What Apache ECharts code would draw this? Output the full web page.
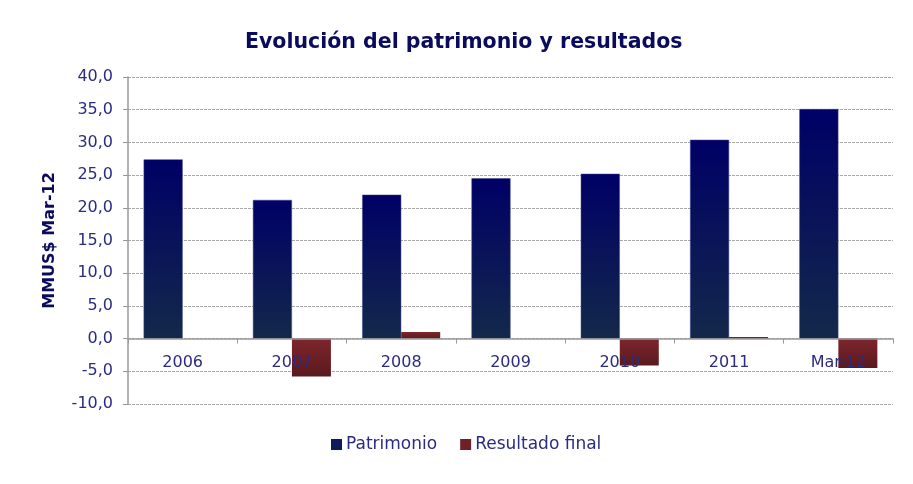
<!DOCTYPE html>
<html>
<head>
<meta charset="utf-8">
<script src="https://cdn.jsdelivr.net/npm/echarts@6/dist/echarts.min.js"></script>
<style>
  html, body { margin: 0; padding: 0; background: #fff; }
  #chart { width: 913px; height: 484px; }
</style>
</head>
<body>
<div id="chart"></div>
<script>
// valores (MMUS$ Mar-12)
const categorias = ['2006', '2007', '2008', '2009', '2010', '2011', 'Mar-12'];
const patrimonio = [27.4, 21.2, 22.0, 24.5, 25.2, 30.4, 35.1];
const resultadoFinal = [0, -5.8, 1.0, 0, -4.1, 0.25, -4.5];

const azul = new echarts.graphic.LinearGradient(0, 0, 0, 1, [
  { offset: 0, color: '#000066' },
  { offset: 1, color: '#13294a' }
]);
const rojo = new echarts.graphic.LinearGradient(0, 0, 0, 1, [
  { offset: 0, color: '#7d252c' },
  { offset: 1, color: '#5a1a1e' }
]);

const chart = echarts.init(document.getElementById('chart'));
chart.setOption({
  animation: false,
  textStyle: { fontFamily: 'DejaVu Sans' },
  title: {
    text: 'Evolución del patrimonio y resultados',
    left: 240,
    top: 27,
    textStyle: { fontSize: 20.5, fontWeight: 'bold', color: '#0b0b5e' }
  },
  legend: {
    bottom: 26,
    left: 326,
    itemWidth: 11,
    itemHeight: 11,
    itemGap: 23,
    icon: 'rect',
    textStyle: { fontSize: 17, color: '#2b2b80', padding: [0, 0, 0, -1] },
    data: [
      { name: 'Patrimonio', itemStyle: { color: '#0e1a5a', borderWidth: 0 } },
      { name: 'Resultado final', itemStyle: { color: '#6e2228', borderWidth: 0 } }
    ]
  },
  grid: { left: 128, right: 20, top: 77, bottom: 80 },
  xAxis: {
    type: 'category',
    data: categorias,
    z: 5, // etiquetas por encima de las barras rojas
    axisLine: { onZero: true, lineStyle: { color: '#9a9a9a', width: 1.5 } },
    axisTick: { show: true, length: 5, lineStyle: { color: '#9a9a9a' } },
    axisLabel: { fontSize: 16, color: '#2b2b80', margin: -49 }
  },
  yAxis: {
    type: 'value',
    min: -10,
    max: 40,
    interval: 5,
    name: 'MMUS$ Mar-12',
    nameLocation: 'middle',
    nameGap: 70,
    nameTextStyle: { fontSize: 16, fontWeight: 'bold', color: '#0b0b5e' },
    axisLine: { show: true, lineStyle: { color: '#9a9a9a', width: 1.5 } },
    axisTick: { show: true, length: 5, lineStyle: { color: '#9a9a9a' } },
    axisLabel: {
      fontSize: 16,
      color: '#2b2b80',
      margin: 15,
      formatter: v => v.toFixed(1).replace('.', ',')
    },
    splitLine: { lineStyle: { color: '#a8a8a8', type: [3, 1] } }
  },
  series: [
    {
      name: 'Patrimonio',
      type: 'bar',
      data: patrimonio,
      barWidth: 39,
      barGap: '0%',
      itemStyle: { color: azul, borderColor: '#3a3f8a', borderWidth: 0.5 }
    },
    {
      name: 'Resultado final',
      type: 'bar',
      data: resultadoFinal,
      barWidth: 39,
      itemStyle: { color: rojo }
    }
  ]
});
</script>
</body>
</html>
